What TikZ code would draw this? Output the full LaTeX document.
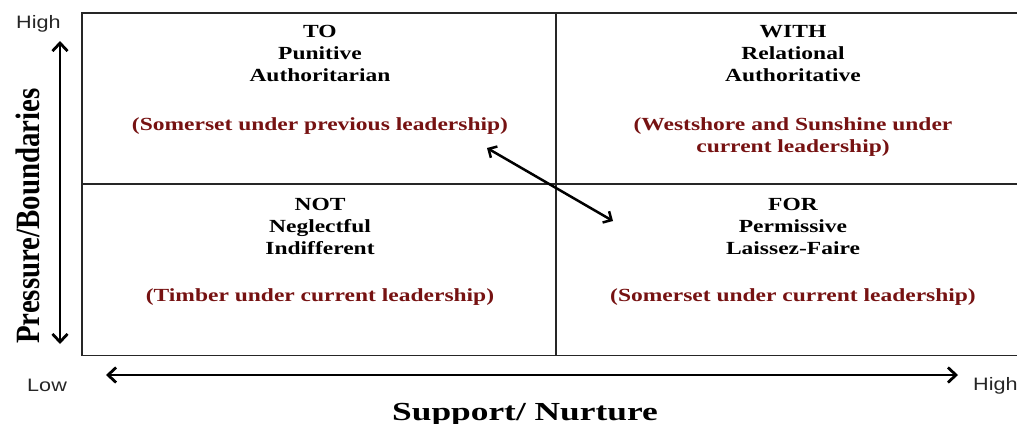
\documentclass[tikz,border=0pt]{standalone}
\usepackage{fontspec}
\setmainfont{Liberation Serif}
\newfontfamily\labsans{Liberation Sans}
\usetikzlibrary{arrows.meta}
\definecolor{quadred}{RGB}{118,18,18}
\begin{document}
\begin{tikzpicture}[x=1bp,y=-1bp,
  quadtxt/.style={anchor=base,inner sep=0pt,xscale=1.27,font=\fontsize{18.5bp}{22bp}\selectfont\bfseries},
  quadnote/.style={quadtxt,text=quadred},
  axlab/.style={anchor=base west,inner sep=0pt,font=\labsans\fontsize{18bp}{20bp}\selectfont,text=black!85,xscale=1.2},
  gridline/.style={line width=1.3bp,black!85},
  bigarrow/.style={line width=2.8bp,{Straight Barb[length=8bp,width=15bp]}-{Straight Barb[length=8bp,width=15bp]}}
]
\useasboundingbox (0,0) rectangle (1017,423);
% grid
\draw[gridline] (1030,13) -- (82,13) -- (82,355.5) -- (1030,355.5);
\draw[gridline] (82,184) -- (1030,184);
\draw[gridline] (556,13) -- (556,355.5);
% quadrant texts
\node[quadtxt] (to) at (320,37) {TO};
\node[quadtxt] (pun) at (320,59) {Punitive};
\node[quadtxt] (auth) at (320,81) {Authoritarian};
\node[quadnote] (som1) at (320,130) {(Somerset under previous leadership)};
\node[quadtxt] (with) at (793,37) {WITH};
\node[quadtxt] (rel) at (793,59) {Relational};
\node[quadtxt] (authv) at (793,81) {Authoritative};
\node[quadnote] (west1) at (793,130) {(Westshore and Sunshine under};
\node[quadnote] (west2) at (793,152) {current leadership)};
\node[quadtxt] (not) at (320,210) {NOT};
\node[quadtxt] (neg) at (320,232) {Neglectful};
\node[quadtxt] (ind) at (320,254) {Indifferent};
\node[quadnote] (tim) at (320,301) {(Timber under current leadership)};
\node[quadtxt] (for) at (793,210) {FOR};
\node[quadtxt] (per) at (793,232) {Permissive};
\node[quadtxt] (lai) at (793,254) {Laissez-Faire};
\node[quadnote] (som2) at (793,301) {(Somerset under current leadership)};
% diagonal arrow
\coordinate (dA) at (487,148);
\coordinate (dB) at (613,221);
\draw[line width=2.5bp,{Straight Barb[length=6.5bp,width=13bp]}-{Straight Barb[length=6.5bp,width=13bp]}] (dA) -- (dB);
% axes
\coordinate (vtop) at (60,41);
\coordinate (vbot) at (60,344);
\draw[bigarrow] (vtop) -- (vbot);
\coordinate (hl) at (106,375);
\coordinate (hr) at (958,375);
\draw[bigarrow] (hl) -- (hr);
% axis labels
\node[axlab] (high1) at (16,28) {High};
\node[axlab] (low) at (27,391) {Low};
\node[axlab] (high2) at (973,390) {High};
\node[anchor=base,inner sep=0pt,xscale=1.36,font=\fontsize{26bp}{28bp}\selectfont\bfseries] (xlab) at (525,420) {Support/ Nurture};
\node[anchor=base,inner sep=0pt,rotate=90,xscale=0.85,font=\fontsize{34bp}{36bp}\selectfont\bfseries] (ylab) at (39,216) {Pressure/Boundaries};
\end{tikzpicture}
\end{document}
